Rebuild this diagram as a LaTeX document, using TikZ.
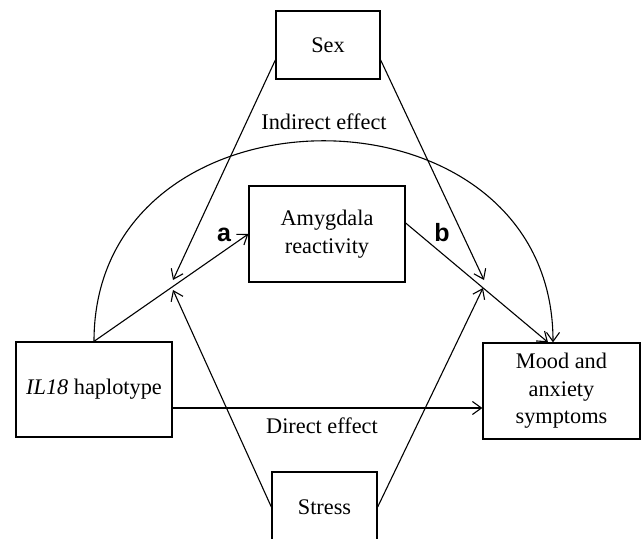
\documentclass[tikz,border=0pt]{standalone}
\usepackage{fontspec}
\setmainfont{Liberation Serif}
\newfontfamily\arialbold{Liberation Sans}[BoldFont={* Bold}]
\usetikzlibrary{arrows.meta,calc}
\begin{document}
\begin{tikzpicture}[x=1pt,y=-1pt,
  box/.style={draw,line width=1.3pt,inner sep=0pt,align=center,
    font=\fontsize{22.3}{27.5}\selectfont},
  conn/.style={line width=1.1pt,-{Straight Barb[length=9pt,width=13pt,line width=1.1pt]}},
  plain/.style={line width=1.1pt},
  lbl/.style={font=\fontsize{22.3}{27.5}\selectfont,inner sep=0pt},
  pathlbl/.style={font=\arialbold\bfseries\fontsize{25}{30}\selectfont,inner sep=0pt,anchor=base}]
\useasboundingbox (0,0) rectangle (644,538);
\node[box,minimum width=104pt,minimum height=68pt] (sex) at (328,45) {Sex};
\node[box,minimum width=105pt,minimum height=70pt] (stress) at (324.5,507) {Stress};
\node[box,minimum width=156pt,minimum height=96pt] (amy) at (327,234) {Amygdala\\reactivity};
\node[box,minimum width=156pt,minimum height=95pt] (il) at (94,389.5) {\textit{IL18} haplotype};
\node[box,minimum width=157pt,minimum height=96pt] (mood) at (561.5,391) {Mood and\\anxiety\\symptoms};
% free ends on paths a and b
\coordinate (sxa) at (173,280);
\coordinate (sta) at (173,290);
\coordinate (sxb) at (484,280);
\coordinate (stb) at (483,288);
\coordinate (sexL) at ($(sex.west)+(0,15)$);
\coordinate (sexR) at ($(sex.east)+(0,15)$);
\coordinate (bstart) at ($(amy.east)+(0,-11)$);
\coordinate (bend) at ($(mood.north)+(-13.5,0)$);
\coordinate (arcend) at ($(mood.north)+(-8.5,0)$);
\coordinate (dstart) at ($(il.east)+(0,18.5)$);
\coordinate (dend) at (mood.west |- dstart);
% arcs and paths
\draw[conn] (il.north) .. controls (94,74) and (553,74) .. (arcend);
\draw[conn] (il.north) -- (amy.west);
\draw[conn] (bstart) -- (bend);
\draw[conn] (dstart) -- (dend);
\draw[conn] (sexL) -- (sxa);
\draw[conn] (sexR) -- (sxb);
\draw[conn] (stress.west) -- (sta);
\draw[conn] (stress.east) -- (stb);
% labels
\node[lbl,anchor=base] (ind) at (324,129) {Indirect effect};
\node[lbl,anchor=base] (dir) at (322,433) {Direct effect};
\node[pathlbl] (la) at (224,241) {a};
\node[pathlbl] (lb) at (442,241) {b};
\end{tikzpicture}
\end{document}
